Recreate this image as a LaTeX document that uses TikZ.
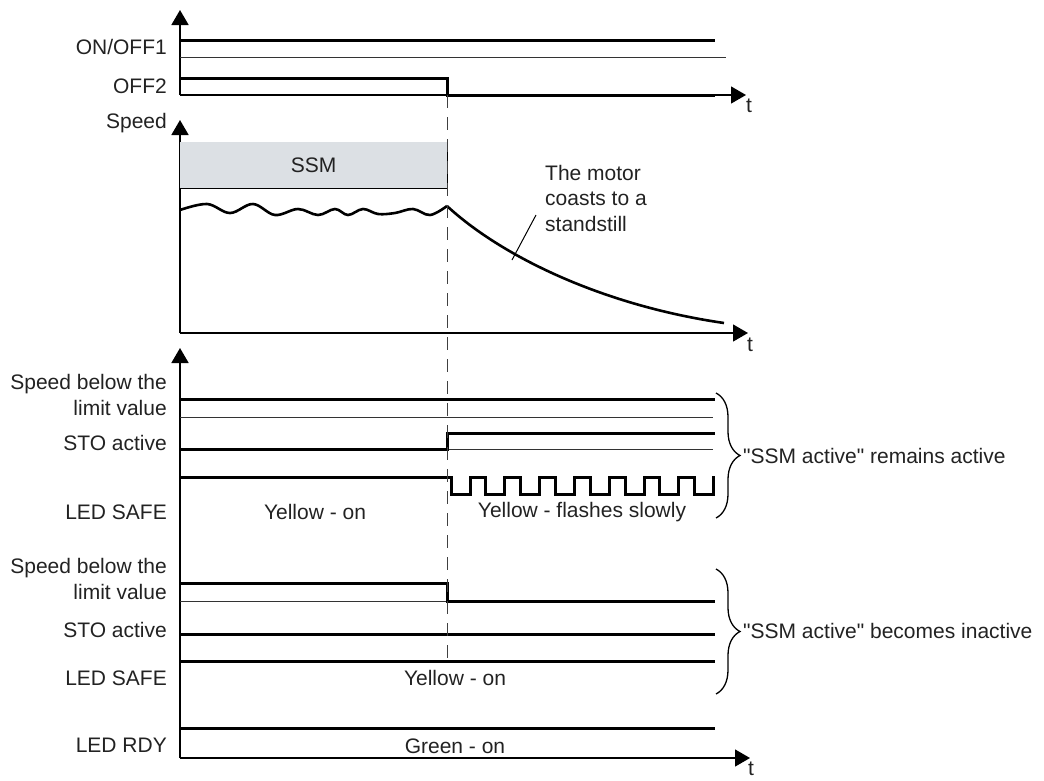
\documentclass[tikz,border=0pt]{standalone}
\usepackage{fontspec}
\setmainfont{Liberation Sans}[Ligatures=TeXOff]
\usepackage{xcolor}
\usetikzlibrary{arrows.meta,positioning,decorations.pathreplacing}
\definecolor{ssmgray}{HTML}{DCE0E4}
\definecolor{ink}{HTML}{222222}

\begin{document}
\begin{tikzpicture}[
    x=1pt, y=-1pt,
    font=\fontsize{21}{25.5}\selectfont,
    text=ink,
    axis/.style={line width=1.8pt, -{Triangle[length=15pt,width=17pt]}},
    taxis/.style={line width=1.3pt, -{Triangle[length=15pt,width=17pt]}},
    sig/.style={line width=3pt},
    low/.style={line width=0.9pt, black!80},
    guide/.style={dash pattern=on 13pt off 9pt, line width=0.9pt, black!75},
    lbl/.style={anchor=east, inner sep=0pt, align=right},
    tlbl/.style={inner sep=0pt},
    brc/.style={decorate, decoration={brace, amplitude=24pt}, line width=1.3pt},
    ssmbox/.style={fill=ssmgray, anchor=north west, inner sep=0pt,
                   minimum width=267pt, minimum height=46pt}
]
\useasboundingbox (0,0) rectangle (1044,780);

%% ON/OFF1 AND OFF2
\draw[axis] (180,95) -- (180,10);
\draw[taxis] (180,95) -- (746,95);
\node[tlbl] (t1) at (749,106) {t};

\draw[low] (180,57) -- (726,57);
\draw[sig] (180,40) -- (715,40);
\node[lbl] (onoff) at (167,47) {ON/OFF1};

\draw[sig] (180,78) -| (447,95) -- (715,95);
\node[lbl] (off2) at (167,86) {OFF2};

%% SPEED
\draw[axis] (180,333) -- (180,120);
\draw[taxis] (180,333) -- (748,333);
\node[tlbl] (t2) at (750,345) {t};
\node[lbl] (speed) at (167,123) {Speed};

\node[ssmbox] (ssm) at (180,142) {SSM};
\draw[line width=1.6pt] (ssm.north east) -- (ssm.south east) -- (ssm.south west);

\draw[line width=2.6pt, line join=round] plot[smooth, tension=0.6] coordinates {
    (180,210) (207,204) (230,213) (253,204) (275,215) (298,209) (318,215)
    (335,209) (348,215) (363,209) (378,214) (395,213) (413,209) (430,215)
    (447,206)};
\draw[line width=2.6pt] (447,206) .. controls (500,255) and (600,305) .. (724,323);

\coordinate (coastpt) at (512,260);
\coordinate (coasttip) at (536,215);
\node[anchor=north west, inner sep=0pt, align=left] (coast) at (545,165)
    {The motor\\coasts to a\\standstill};
\draw[line width=1pt] (coastpt) -- (coasttip);

%% SSM ACTIVE REMAINS ACTIVE
\draw[axis] (180,758) -- (180,348);
\draw[taxis] (180,758) -- (750,758);
\node[tlbl] (t3) at (751,769) {t};

\draw[low] (180,417) -- (713,417);
\draw[sig] (180,399) -- (715,399);
\node[lbl] (spd1) at (167,395) {Speed below the\\limit value};

\draw[low] (447,449) -- (713,449);
\draw[sig] (180,449) -| (447,433) -- (715,433);
\node[lbl] (sto1) at (167,443) {STO active};

\draw[sig] (180,477) -- (451,477)
    \foreach \k in {1,...,7} { -- ++(0,17) -- ++(19,0) -- ++(0,-17) -- ++(15.8,0) }
    -- ++(0,17) -- ++(19,0) -- ++(0,-17) -- ++(1.6,0);
\node[lbl] (safe1) at (167,512) {LED SAFE};
\node[tlbl] (yon1) at (315,512) {Yellow - on};
\node[tlbl] (yflash) at (582,512) {Yellow - flashes slowly};

\draw[brc] (716,393) -- (716,518);
\node[anchor=west, inner sep=0pt] (remain) at (743,456) {"SSM active" remains active};

%% SSM ACTIVE BECOMES INACTIVE
\draw[low] (180,601) -- (447,601);
\draw[sig] (180,583) -| (447,601) -- (715,601);
\node[lbl] (spd2) at (167,579) {Speed below the\\limit value};

\draw[sig] (180,634) -- (715,634);
\node[lbl] (sto2) at (167,630) {STO active};

\draw[sig] (180,661) -- (715,661);
\node[lbl] (safe2) at (167,678) {LED SAFE};
\node[tlbl] (yon2) at (455,678) {Yellow - on};

\draw[brc] (716,569) -- (716,694);
\node[anchor=west, inner sep=0pt] (inact) at (743,631) {"SSM active" becomes inactive};

%% LED RDY
\draw[sig] (180,728) -- (715,728);
\node[lbl] (rdy) at (167,745) {LED RDY};
\node[tlbl] (gon) at (455,746) {Green - on};

%% switching instant
\draw[guide] (447,95) -- (447,658);

\end{tikzpicture}
\end{document}
